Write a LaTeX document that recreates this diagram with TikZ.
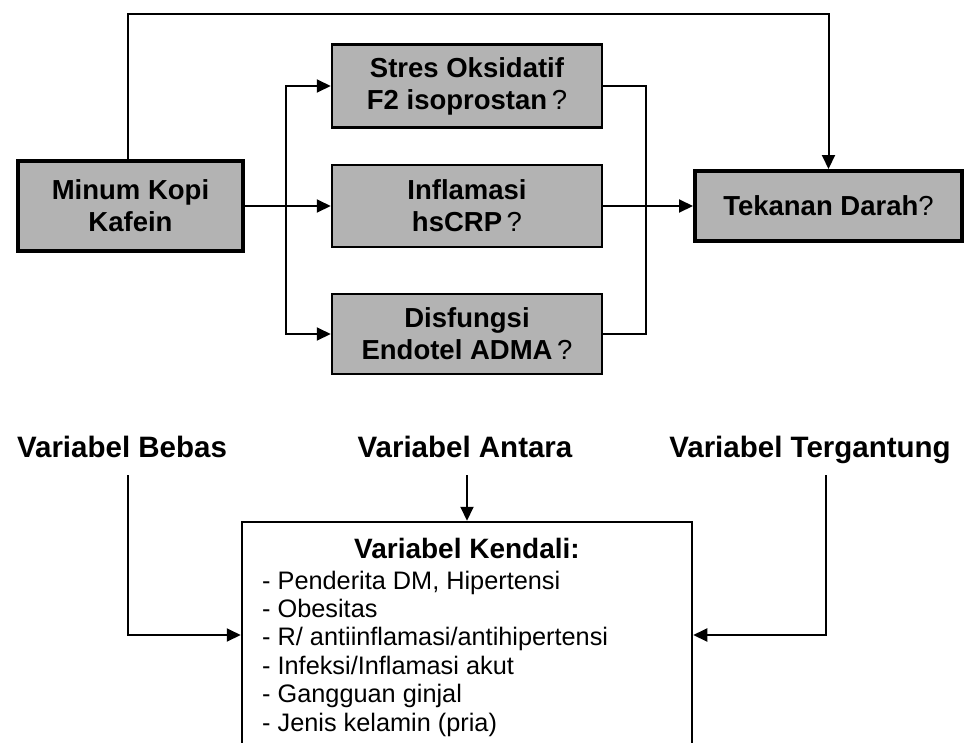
\documentclass[tikz,border=0pt]{standalone}
\usepackage{fontspec}
\setmainfont{Liberation Sans}
\usetikzlibrary{arrows.meta}
\definecolor{boxgray}{RGB}{179,179,179}
\begin{document}
\begin{tikzpicture}[x=1pt,y=-1pt,
  conn/.style={line width=2pt},
  arr/.style={conn,-{Triangle[length=14pt,width=13pt]}},
  gbox/.style={draw,fill=boxgray,line width=2.5pt,align=center,inner sep=0pt,
    font=\fontsize{27.5}{32}\selectfont\bfseries},
  heavybox/.style={gbox,line width=4pt},
  lab/.style={font=\fontsize{29.5}{34}\selectfont\bfseries,inner sep=0pt},
  item/.style={font=\fontsize{25.3}{28}\selectfont,inner sep=0pt,anchor=base west}
]
\clip (0,0) rectangle (964,742);
\fill[white] (0,0) rectangle (964,742);

% top boxes
\node[heavybox,minimum width=225,minimum height=90] (kopi) at (130.5,206) {Minum Kopi\\Kafein};
\node[gbox,minimum width=270,minimum height=83] (stres) at (467,86) {Stres Oksidatif\\F2 isoprostan\,{\mdseries ?}};
\node[gbox,minimum width=270,minimum height=82] (infl) at (467,206) {Inflamasi\\hsCRP\,{\mdseries ?}};
\node[gbox,minimum width=270,minimum height=80] (disf) at (467,334) {Disfungsi\\Endotel ADMA\,{\mdseries ?}};
\node[heavybox,minimum width=267,minimum height=70] (tek) at (828.5,206) {Tekanan Darah{\mdseries ?}};

\coordinate (tl) at (128,14);
\coordinate (bl) at (286,0);
\coordinate (br) at (646,0);

\draw[arr] (tl |- kopi.north) -- (tl) -- (tl -| tek.north) -- (tek.north);
\draw[arr] (kopi.east) -- (infl.west);
\draw[arr] (bl |- disf.west) -- (bl |- stres.west) -- (stres.west);
\draw[arr] (bl |- stres.west) -- (bl |- disf.west) -- (disf.west);
\draw[conn] (stres.east) -- (br |- stres.east) -- (br |- disf.east) -- (disf.east);
\draw[arr] (infl.east) -- (tek.west);

% bottom part
\node[lab,anchor=base] (bebas) at (122,457) {Variabel Bebas};
\node[lab,anchor=base] (antara) at (465,457) {Variabel Antara};
\node[lab,anchor=base] (terg) at (810,457) {Variabel Tergantung};

\node[draw,line width=2.5pt,minimum width=450,minimum height=280,inner sep=0pt] (kend) at (467,662) {};
\node[font=\fontsize{28}{32}\selectfont\bfseries,inner sep=0pt,anchor=base] (ktitle) at (467,558) {Variabel Kendali:};
\foreach \t [count=\i] in {{- Penderita DM, Hipertensi},{- Obesitas},{- R/ antiinflamasi/antihipertensi},{- Infeksi/Inflamasi akut},{- Gangguan ginjal},{- Jenis kelamin (pria)}}
  \node[item] (k\i) at (262,{589+(\i-1)*28.4}) {\t};

\coordinate (b1) at (128,475);
\coordinate (t1) at (826,475);
\coordinate (ky) at (0,635);
\draw[arr] (b1) -- (b1 |- ky) -- (ky -| kend.west);
\draw[arr] (t1) -- (t1 |- ky) -- (ky -| kend.east);
\draw[arr] (kend.north |- b1) -- (kend.north);
\end{tikzpicture}
\end{document}
